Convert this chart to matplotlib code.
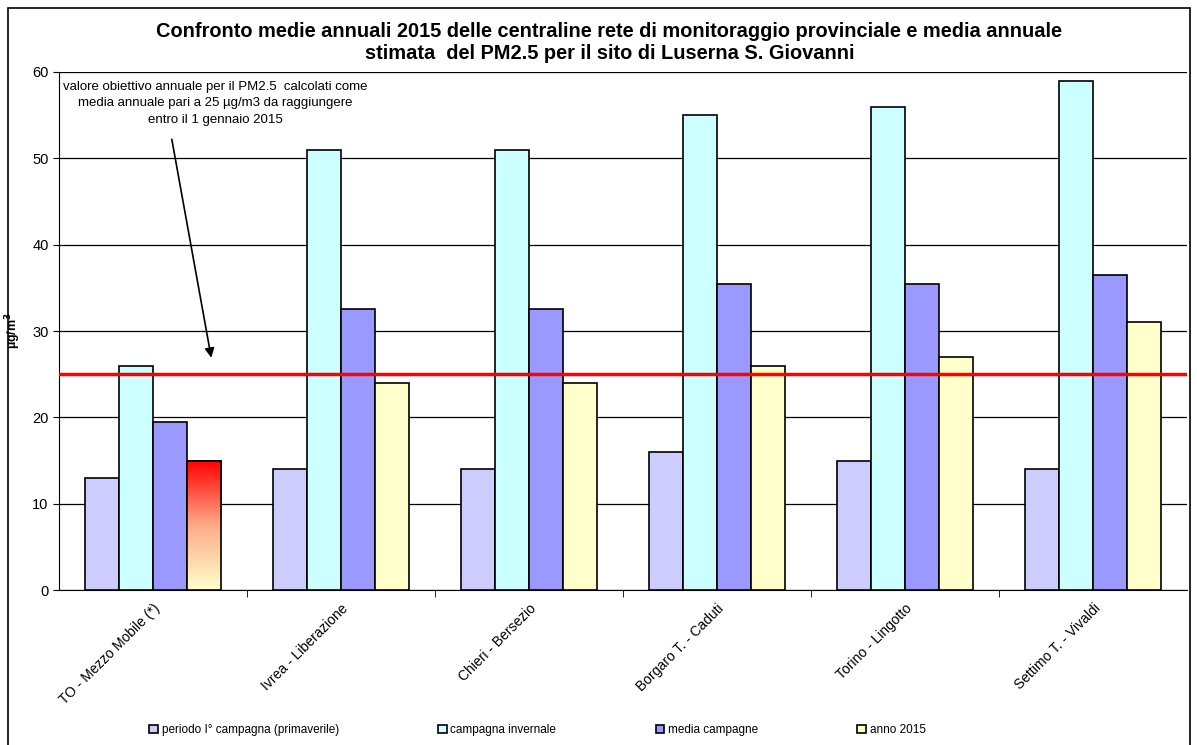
import matplotlib
matplotlib.use('Agg')
import matplotlib.pyplot as plt
import numpy as np
from matplotlib.patches import Rectangle
from matplotlib.colors import LinearSegmentedColormap

plt.rcParams['font.family'] = ['Liberation Sans', 'DejaVu Sans']

sites = ['TO - Mezzo Mobile (*)', 'Ivrea - Liberazione', 'Chieri - Bersezio',
         'Borgaro T. - Caduti', 'Torino - Lingotto', 'Settimo T. - Vivaldi']
primaverile = [13, 14, 14, 16, 15, 14]
invernale = [26, 51, 51, 55, 56, 59]
media = [19.5, 32.5, 32.5, 35.5, 35.5, 36.5]
anno2015 = [15, 24, 24, 26, 27, 31]
limite = 25

series = [('periodo I° campagna (primaverile)', primaverile, '#CCCCFF'),
          ('campagna invernale', invernale, '#CCFFFF'),
          ('media campagne', media, '#9999FF'),
          ('anno 2015', anno2015, '#FFFFCC')]

fig = plt.figure(figsize=(11.97, 7.45), dpi=100)
ax = fig.add_axes([0.0493, 0.208, 0.9423, 0.6954])

x = np.arange(len(sites))
w = 0.182
bars = []
for i, (name, vals, col) in enumerate(series):
    b = ax.bar(x + (i - 1.5) * w, vals, w, color=col, edgecolor='black',
               linewidth=1.2, label=name, zorder=3)
    bars.append(b)

# gradient fill for the mobile-lab 2015 bar
grad = LinearSegmentedColormap.from_list('g', ['#FFFFCC', '#FFAA88', '#FF0000'])
r = bars[3][0]
bx, bw, bh = r.get_x(), r.get_width(), r.get_height()
img = ax.imshow(np.linspace(0, 1, 256).reshape(-1, 1), cmap=grad, origin='lower',
                extent=[bx, bx + bw, 0, bh], aspect='auto', zorder=3.5)
img.set_clip_path(r)
ax.add_patch(Rectangle((bx, 0), bw, bh, fill=False, edgecolor='black', linewidth=1.2, zorder=4))

ax.axhline(limite, color='#FF0000', linewidth=2.5, zorder=5)

ax.set_xlim(-0.5, len(sites) - 0.5)
ax.set_ylim(0, 60)
ax.set_yticks(range(0, 61, 10))
ax.yaxis.grid(True, color='black', linewidth=0.9, zorder=0)
ax.tick_params(axis='y', labelsize=10.5, length=4, direction='out')
ax.set_xticks(x)
ax.set_xticklabels(sites, rotation=45, ha='right', rotation_mode='anchor', fontsize=10)
ax.tick_params(axis='x', length=0, pad=8)
ax.set_xticks(np.arange(0.5, len(sites) - 0.5), minor=True)
ax.tick_params(axis='x', which='minor', length=5)
for s in ['top', 'right']:
    ax.spines[s].set_visible(False)
ax.spines['left'].set_color('black')
ax.spines['bottom'].set_color('black')
ax.set_ylabel('µg/m$^\\mathbf{3}$', fontsize=9, fontweight='bold')
ax.yaxis.set_label_coords(-0.032, 0.5)

ax.text(0.33, 59.0, 'valore obiettivo annuale per il PM2.5  calcolati come\n'
        'media annuale pari a 25 µg/m3 da raggiungere\n'
        'entro il 1 gennaio 2015',
        ha='center', va='top', fontsize=9.5, linespacing=1.5, zorder=6)
ax.annotate('', xy=(0.31, 26.9), xytext=(0.10, 52.2),
            arrowprops=dict(arrowstyle='-|>', color='black', lw=1.2,
                            shrinkA=0, shrinkB=0, mutation_scale=14),
            zorder=6)

fig.text(0.509, 0.943, 'Confronto medie annuali 2015 delle centraline rete di monitoraggio provinciale e media annuale\n'
         'stimata  del PM2.5 per il sito di Luserna S. Giovanni',
         ha='center', va='center', fontsize=14.4, fontweight='bold', linespacing=1.25)

fig.legend(loc='center', bbox_to_anchor=(0.449, 0.02), ncol=4, frameon=False,
           prop={'family': ['Liberation Sans Narrow', 'Liberation Sans'], 'size': 8.5},
           handlelength=0.75, handleheight=0.75, handletextpad=0.3,
           columnspacing=8.4)

fig.patches.append(Rectangle((8 / 1197, -0.02), 1182 / 1197, 1.02 - 8 / 745,
                             transform=fig.transFigure, fill=False,
                             edgecolor='black', linewidth=1.2))

fig.savefig('out.png', dpi=100)
